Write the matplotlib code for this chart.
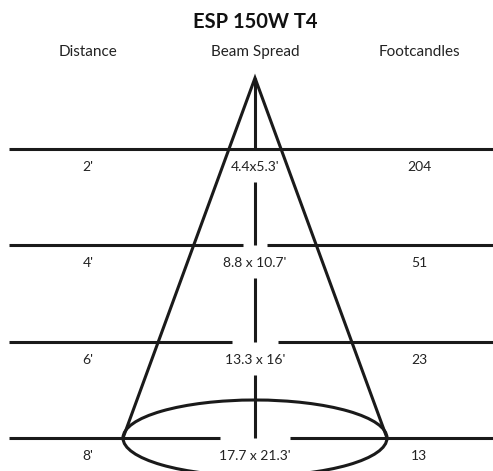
import matplotlib
matplotlib.use("Agg")
import matplotlib.pyplot as plt
from matplotlib.patches import Ellipse

plt.rcParams['font.family'] = ['Lato', 'DejaVu Sans']

# chart data
title = "ESP 150W T4"
headers = ["Distance", "Beam Spread", "Footcandles"]
distances = ["2'", "4'", "6'", "8'"]
spreads = ["4.4x5.3'", "8.8 x 10.7'", "13.3 x 16'", "17.7 x 21.3'"]
footcandles = ["204", "51", "23", "13"]

# layout (pixels, y downward)
W, H = 493, 471
col_x = [88, 255, 419]
row_y = [149, 245, 342, 438]
gap_half = [0, 12, 23, 35]      # gap in the row line around the centre label
apex = (255, 78)
base_half = 132                 # half-width of cone at last row
ell_h = 76
lc = "#1a1a1a"
lw = 2.2

fig = plt.figure(figsize=(W / 100, H / 100), dpi=100)
ax = fig.add_axes([0, 0, 1, 1])
ax.set_xlim(0, W)
ax.set_ylim(H, 0)
ax.axis("off")

ax.text(255, 22, title, ha="center", va="center", fontsize=14.5, fontweight="bold", color="#111")
for x, h in zip(col_x, headers):
    ax.text(x, 52, h, ha="center", va="center", fontsize=11, color="#222")

cx = apex[0]
for i, y in enumerate(row_y):
    g = gap_half[i]
    if g == 0:
        ax.plot([9, W], [y, y], color=lc, lw=lw, solid_capstyle="butt")
    else:
        ax.plot([9, cx - g], [y, y], color=lc, lw=lw, solid_capstyle="butt")
        ax.plot([cx + g, W], [y, y], color=lc, lw=lw, solid_capstyle="butt")
    ty = y + 18
    ax.text(col_x[0], ty, distances[i], ha="center", va="center", fontsize=10, color="#222")
    ax.text(col_x[1], ty, spreads[i], ha="center", va="center", fontsize=10, color="#222")
    ax.text(col_x[2], ty, footcandles[i], ha="center", va="center", fontsize=10, color="#222")

# centre axis
ax.plot([cx, cx], [apex[1], row_y[0]], color=lc, lw=lw, solid_capstyle="butt")
for i in range(1, len(row_y)):
    ax.plot([cx, cx], [row_y[i - 1] + 33, row_y[i]], color=lc, lw=lw, solid_capstyle="butt")

# cone
by = row_y[-1]
ax.plot([cx - base_half, apex[0], cx + base_half], [by, apex[1], by], color=lc, lw=lw,
        solid_joinstyle="miter")
ax.add_patch(Ellipse((cx, by), 2 * base_half, ell_h, fill=False, ec=lc, lw=lw))

fig.savefig("out.png", dpi=100)
